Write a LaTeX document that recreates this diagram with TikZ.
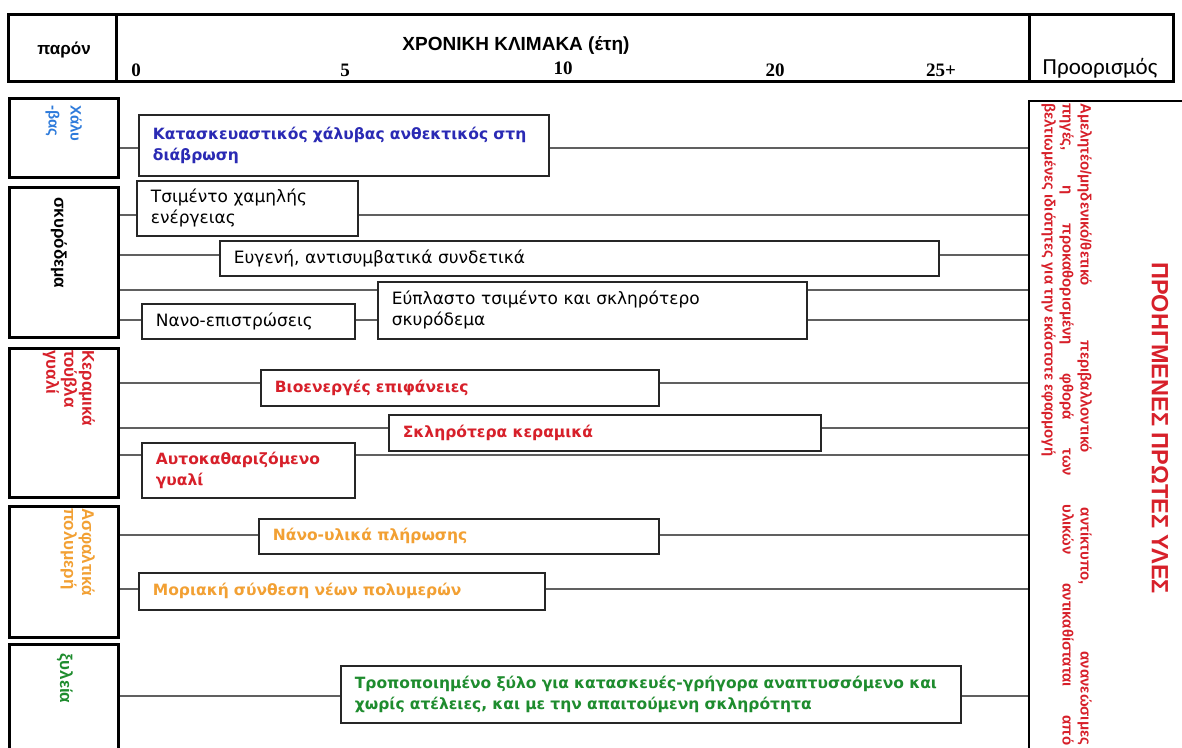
\documentclass[tikz,border=0pt]{standalone}
\usepackage{fontspec}
\setmainfont{Liberation Sans}
\newfontfamily\dvfont{DejaVu Sans}
\newfontfamily\tmsfont{Liberation Serif}
\newfontfamily\calfont{Carlito}
\definecolor{cblue}{HTML}{2A2AB4}
\definecolor{lblue}{HTML}{2E7BDB}
\definecolor{cred}{HTML}{D7202A}
\definecolor{corange}{HTML}{F2A033}
\definecolor{cgreen}{HTML}{1E8C2E}
\definecolor{cgray}{HTML}{606060}
\begin{document}
\begin{tikzpicture}[x=1pt,y=-1pt,
  hdr/.style={draw=black, line width=3pt, anchor=north west, inner sep=0pt},
  cat/.style={draw=black, line width=3pt, anchor=north west, inner sep=0pt, minimum width=109pt},
  catlab/.style={rotate=-90, anchor=north west, inner sep=0pt, align=left, font=\fontsize{17}{18}\selectfont\bfseries},
  item/.style={draw=black!85, line width=1.8pt, anchor=north west, inner xsep=14pt, inner ysep=0pt, align=left, font=\dvfont\fontsize{17}{21}\selectfont},
  citem/.style={item, font=\dvfont\fontsize{15.5}{21}\selectfont\bfseries},
  conn/.style={draw=cgray, line width=1.1pt},
  num/.style={font=\tmsfont\fontsize{19}{20}\selectfont\bfseries, inner sep=0pt}
]
\useasboundingbox (0,0) rectangle (1182,747);
\fill[white] (0,0) rectangle (1182,747);

% header
\node[hdr, minimum width=108pt, minimum height=67pt] (HP) at (7,13) {};
\node[hdr, minimum width=913pt, minimum height=67pt] (HT) at (115,13) {};
\node[hdr, minimum width=144pt, minimum height=67pt] (HD) at (1028,13) {};
\node[font=\fontsize{17}{18}\selectfont\bfseries] (tP) at (64,50) {παρόν};
\node[font=\fontsize{19}{20}\selectfont\bfseries] (tT) at (516,45) {ΧΡΟΝΙΚΗ ΚΛΙΜΑΚΑ (έτη)};
\node[num] (n0) at (136,70) {0};
\node[num] (n5) at (345,70) {5};
\node[num] (n10) at (563,68) {10};
\node[num] (n20) at (775,70) {20};
\node[num] (n25) at (941,70) {25+};
\node[font=\calfont\fontsize{23}{24}\selectfont] (tD) at (1100,68) {Προορισμός};

% category boxes
\node[cat, minimum height=79pt] (L1) at (8,97) {};
\node[cat, minimum height=150pt] (L2) at (8,186) {};
\node[cat, minimum height=149pt] (L3) at (8,347) {};
\node[cat, minimum height=131pt] (L4) at (8,505) {};
\node[cat, minimum height=112pt] (L5) at (8,643) {};
\node[catlab, text=lblue, font=\fontsize{15}{22}\selectfont\bfseries] (L1t) at (82,105) {Χάλυ\\-βας};
\node[catlab, text=black] (L2t) at (67,197) {σκυρόδεμα};
\node[catlab, text=cred] (L3t) at (95,350) {Κεραμικά\\τούβλα\\γυαλί};
\node[catlab, text=corange] (L4t) at (95,508) {Ασφαλτικά\\πολυμερή};
\node[catlab, text=cgreen] (L5t) at (73,653) {ξυλεία};

% destination column
\node[draw=black, line width=2pt, anchor=north west, inner sep=0pt, minimum width=160pt, minimum height=660pt] (R) at (1028,100) {};
\node[rotate=-90, anchor=north west, inner sep=0pt, text width=642pt, align=justify, text=cred,
      font=\fontsize{15}{18}\selectfont\bfseries] (Rt) at (1092,103)
  {Αμελητέο/μηδενικό/θετικό περιβαλλοντικό αντίκτυπο, ανανεώσιμες\linebreak πηγές, η προκαθορισμένη φθορά των υλικών αντικαθίσταται από\linebreak βελτιωμένες ιδιότητες για την εκάστοτε εφαρμογή};
\node[rotate=-90, inner sep=0pt, text=cred, font=\fontsize{23.5}{24}\selectfont\bfseries] (Rh) at (1160,428) {ΠΡΟΗΓΜΕΝΕΣ ΠΡΩΤΕΣ ΥΛΕΣ};

% connector levels
\coordinate (yA) at (0,148);
\coordinate (yB) at (0,215);
\coordinate (yC) at (0,255);
\coordinate (yD) at (0,290);
\coordinate (yE) at (0,320);
\coordinate (yG) at (0,383);
\coordinate (yH) at (0,428);
\coordinate (yI) at (0,455);
\coordinate (yJ) at (0,535);
\coordinate (yK) at (0,589);
\coordinate (yL) at (0,696);

% items
\node[citem, text=cblue, text width=382pt, minimum height=61pt] (A) at (138,114) {Κατασκευαστικός χάλυβας ανθεκτικός στη\\διάβρωση};
\node[item, text=black, text width=193pt, minimum height=55pt] (B) at (136,180) {Τσιμέντο χαμηλής\\ενέργειας};
\node[item, text=black, text width=691pt, minimum height=35pt] (C) at (219,240) {Ευγενή, αντισυμβατικά συνδετικά};
\node[item, text=black, text width=185pt, minimum height=35pt] (E) at (141,303) {Νανο-επιστρώσεις};
\node[item, text=black, text width=401pt, minimum height=57pt] (F) at (377,281) {Εύπλαστο τσιμέντο και σκληρότερο\\σκυρόδεμα};
\node[citem, text=cred, text width=370pt, minimum height=36pt] (G) at (260,369) {Βιοενεργές επιφάνειες};
\node[citem, text=cred, text width=404pt, minimum height=36pt] (H) at (388,414) {Σκληρότερα κεραμικά};
\node[citem, text=cred, text width=185pt, minimum height=55pt] (I) at (141,442) {Αυτοκαθαριζόμενο\\γυαλί};
\node[citem, text=corange, text width=372pt, minimum height=35pt] (J) at (258,518) {Νάνο-υλικά πλήρωσης};
\node[citem, text=corange, text width=378pt, minimum height=37pt] (K) at (138,572) {Μοριακή σύνθεση νέων πολυμερών};
\node[citem, text=cgreen, text width=592pt, minimum height=57pt] (L) at (340,665) {Τροποποιημένο ξύλο για κατασκευές-γρήγορα αναπτυσσόμενο και\\χωρίς ατέλειες, και με την απαιτούμενη σκληρότητα};

% connectors
\draw[conn] (yA -| L1.east) -- (yA -| A.west);
\draw[conn] (yA -| A.east) -- (yA -| R.west);
\draw[conn] (yB -| L2.east) -- (yB -| B.west);
\draw[conn] (yB -| B.east) -- (yB -| R.west);
\draw[conn] (yC -| L2.east) -- (yC -| C.west);
\draw[conn] (yC -| C.east) -- (yC -| R.west);
\draw[conn] (yD -| L2.east) -- (yD -| F.west);
\draw[conn] (yD -| F.east) -- (yD -| R.west);
\draw[conn] (yE -| L2.east) -- (yE -| E.west);
\draw[conn] (yE -| E.east) -- (yE -| F.west);
\draw[conn] (yE -| F.east) -- (yE -| R.west);
\draw[conn] (yG -| L3.east) -- (yG -| G.west);
\draw[conn] (yG -| G.east) -- (yG -| R.west);
\draw[conn] (yH -| L3.east) -- (yH -| H.west);
\draw[conn] (yH -| H.east) -- (yH -| R.west);
\draw[conn] (yI -| L3.east) -- (yI -| I.west);
\draw[conn] (yI -| I.east) -- (yI -| R.west);
\draw[conn] (yJ -| L4.east) -- (yJ -| J.west);
\draw[conn] (yJ -| J.east) -- (yJ -| R.west);
\draw[conn] (yK -| L4.east) -- (yK -| K.west);
\draw[conn] (yK -| K.east) -- (yK -| R.west);
\draw[conn] (yL -| L5.east) -- (yL -| L.west);
\draw[conn] (yL -| L.east) -- (yL -| R.west);
\end{tikzpicture}
\end{document}
